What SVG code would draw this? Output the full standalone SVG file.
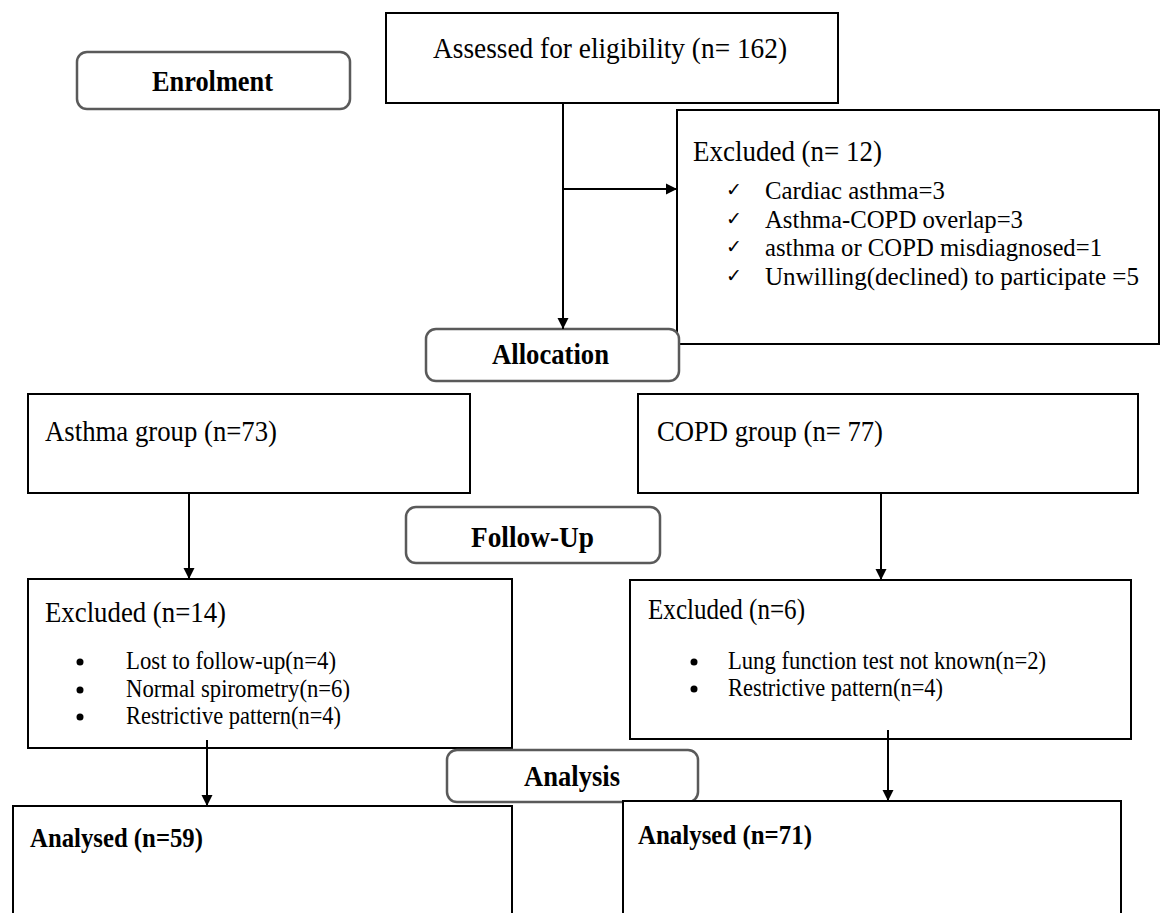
<svg xmlns="http://www.w3.org/2000/svg" width="1161" height="913" viewBox="0 0 1161 913">
<style>
.box{fill:#fff;stroke:#000;stroke-width:2}
.stage{fill:#fff;stroke:#5a5a5a;stroke-width:2.5}
.t{font-family:"Liberation Serif","Times New Roman",serif;fill:#000}
.h{font-size:29px}
.i{font-size:25px}
.j{font-size:26px}
.b{font-size:30px;font-weight:bold}
.chk{font-family:"DejaVu Sans",sans-serif;font-size:19px;fill:#000}
.conn line{stroke:#000;stroke-width:2;fill:none}
</style>
<defs>
<marker id="arr" markerUnits="userSpaceOnUse" markerWidth="12" markerHeight="12" refX="11" refY="6" orient="auto">
<path d="M0,0.5 L11,6 L0,11.5 z" fill="#000"/>
</marker>
</defs>
<rect width="1161" height="913" fill="#fff"/>

<g id="enrolment">
<rect class="stage" x="77" y="52" width="273" height="57" rx="10"/>
<text class="t b" x="152" y="91" textLength="121" lengthAdjust="spacingAndGlyphs">Enrolment</text>
</g>

<g id="assessed">
<rect class="box" x="386" y="13" width="452" height="90"/>
<text class="t h" x="433" y="58" textLength="354" lengthAdjust="spacingAndGlyphs">Assessed for eligibility (n= 162)</text>
</g>

<g id="excluded-top">
<rect class="box" x="677" y="110" width="482" height="234"/>
<text class="t h" x="693" y="161" textLength="189" lengthAdjust="spacingAndGlyphs">Excluded (n= 12)</text>
<text class="chk" x="726" y="196">✓</text>
<text class="t i" x="765" y="199" textLength="180" lengthAdjust="spacingAndGlyphs">Cardiac asthma=3</text>
<text class="chk" x="726" y="225">✓</text>
<text class="t i" x="765" y="228" textLength="258" lengthAdjust="spacingAndGlyphs">Asthma-COPD overlap=3</text>
<text class="chk" x="726" y="253">✓</text>
<text class="t i" x="765" y="256" textLength="337" lengthAdjust="spacingAndGlyphs">asthma or COPD misdiagnosed=1</text>
<text class="chk" x="726" y="282">✓</text>
<text class="t i" x="765" y="285" textLength="374" lengthAdjust="spacingAndGlyphs">Unwilling(declined) to participate =5</text>
</g>

<g id="allocation">
<rect class="stage" x="426" y="329" width="253" height="52" rx="10"/>
<text class="t b" x="492" y="364" textLength="117" lengthAdjust="spacingAndGlyphs">Allocation</text>
</g>

<g id="asthma-group">
<rect class="box" x="28" y="394" width="442" height="99"/>
<text class="t h" x="45" y="441" textLength="232" lengthAdjust="spacingAndGlyphs">Asthma group (n=73)</text>
</g>

<g id="copd-group">
<rect class="box" x="638" y="394" width="500" height="99"/>
<text class="t h" x="657" y="441" textLength="226" lengthAdjust="spacingAndGlyphs">COPD group (n= 77)</text>
</g>

<g id="follow-up">
<rect class="stage" x="406" y="507" width="254" height="56" rx="10"/>
<text class="t b" x="471" y="547" textLength="123" lengthAdjust="spacingAndGlyphs">Follow-Up</text>
</g>

<g id="excluded-asthma">
<rect class="box" x="28" y="579" width="484" height="169"/>
<text class="t h" x="45" y="622" textLength="181" lengthAdjust="spacingAndGlyphs">Excluded (n=14)</text>
<circle cx="80" cy="662" r="3.5" fill="#000"/>
<text class="t j" x="126" y="669" textLength="210" lengthAdjust="spacingAndGlyphs">Lost to follow-up(n=4)</text>
<circle cx="80" cy="690" r="3.5" fill="#000"/>
<text class="t j" x="126" y="697" textLength="224" lengthAdjust="spacingAndGlyphs">Normal spirometry(n=6)</text>
<circle cx="80" cy="717" r="3.5" fill="#000"/>
<text class="t j" x="126" y="724" textLength="215" lengthAdjust="spacingAndGlyphs">Restrictive pattern(n=4)</text>
</g>

<g id="excluded-copd">
<rect class="box" x="630" y="580" width="501" height="159"/>
<text class="t h" x="648" y="619" textLength="157" lengthAdjust="spacingAndGlyphs">Excluded (n=6)</text>
<circle cx="694" cy="662" r="3.5" fill="#000"/>
<text class="t j" x="728" y="669" textLength="318" lengthAdjust="spacingAndGlyphs">Lung function test not known(n=2)</text>
<circle cx="694" cy="689" r="3.5" fill="#000"/>
<text class="t j" x="728" y="696" textLength="215" lengthAdjust="spacingAndGlyphs">Restrictive pattern(n=4)</text>
</g>

<g id="analysis">
<rect class="stage" x="447" y="750" width="251" height="52" rx="10"/>
<text class="t b" x="524" y="786" textLength="96" lengthAdjust="spacingAndGlyphs">Analysis</text>
</g>

<g id="analysed-asthma">
<rect class="box" x="13" y="806" width="499" height="130"/>
<text class="t b" x="30" y="847" textLength="173" lengthAdjust="spacingAndGlyphs" style="font-size:28px">Analysed (n=59)</text>
</g>

<g id="analysed-copd">
<rect class="box" x="623" y="801" width="498" height="135"/>
<text class="t b" x="638" y="844" textLength="174" lengthAdjust="spacingAndGlyphs" style="font-size:28px">Analysed (n=71)</text>
</g>

<g id="connectors" class="conn">
<line x1="563" y1="103" x2="563" y2="329" marker-end="url(#arr)"/>
<line x1="563" y1="189" x2="677" y2="189" marker-end="url(#arr)"/>
<line x1="189" y1="493" x2="189" y2="579" marker-end="url(#arr)"/>
<line x1="881" y1="493" x2="881" y2="580" marker-end="url(#arr)"/>
<line x1="207" y1="740" x2="207" y2="806" marker-end="url(#arr)"/>
<line x1="888" y1="730" x2="888" y2="801" marker-end="url(#arr)"/>
</g>
</svg>
